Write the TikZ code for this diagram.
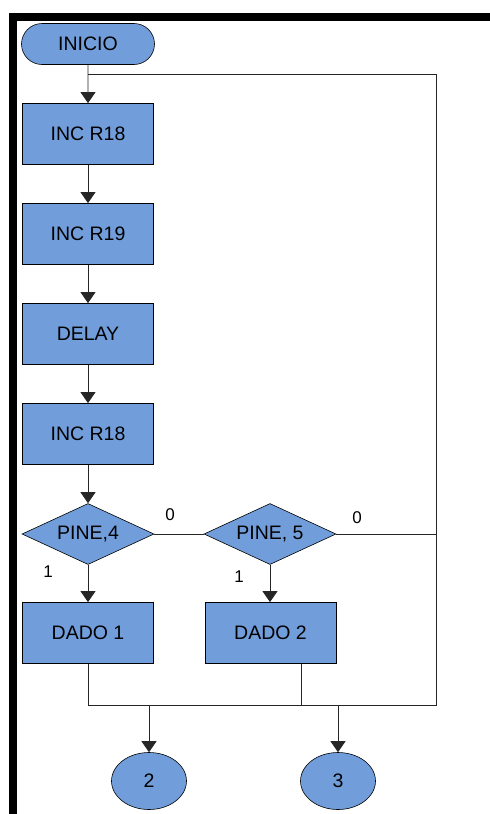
\documentclass[tikz,border=0pt]{standalone}
\usepackage{fontspec}
\setmainfont{Liberation Sans}
\usetikzlibrary{shapes.geometric,shapes.misc,arrows.meta}
\definecolor{boxblue}{RGB}{113,158,219}
\begin{document}
\begin{tikzpicture}[x=1pt,y=-1pt,
  every node/.style={font=\fontsize{19.5}{22}\selectfont},
  proc/.style={draw=black,fill=boxblue,line width=0.8pt,minimum width=131pt,minimum height=61pt,inner sep=0pt},
  decide/.style={diamond,draw=black,fill=boxblue,line width=0.6pt,minimum width=132pt,minimum height=61pt,inner sep=0pt},
  term/.style={rounded rectangle,draw=black,fill=boxblue,line width=0.6pt,minimum width=133pt,minimum height=41pt,inner sep=0pt},
  conn/.style={ellipse,draw=black,fill=boxblue,line width=0.6pt,minimum width=75pt,minimum height=57pt,inner sep=0pt},
  flow/.style={line width=0.8pt,draw=black!85},
  arr/.style={flow,-{Triangle[width=15pt,length=11pt]}},
  bit/.style={font=\fontsize{17}{20}\selectfont}]
\useasboundingbox (0,0) rectangle (490,814);
% frame
\fill (9,13) rectangle (490,21);
\fill (9,13) rectangle (17,814);

% blocks
\node[term] (ini) at (88,44) {INICIO};
\node[proc] (r18a) at (88,134) {INC R18};
\node[proc] (r19) at (88,234) {INC R19};
\node[proc] (dly) at (88,334) {DELAY};
\node[proc] (r18b) at (88,434) {INC R18};
\node[decide] (p4) at (88,534) {};
\node at (p4) {PINE,4};
\node[decide] (p5) at (270,534) {};
\node at (p5) {PINE, 5};
\node[proc] (d1) at (88,633) {DADO 1};
\node[proc] (d2) at (270.5,633) {DADO 2};
\node[conn] (c2) at (149,781) {2};
\node[conn] (c3) at (338,781) {3};

% junctions
\coordinate (loopL) at (88,74);
\coordinate (loopR) at (436,74);
\coordinate (sideR) at (436,534);
\coordinate (botR) at (436,705);
\coordinate (bot1) at (88,705);
\coordinate (bot2) at (301,705);
\coordinate (tap2) at (149,705);
\coordinate (tap3) at (338,705);

% main flow
\draw[arr] (ini) -- (r18a);
\draw[arr] (r18a) -- (r19);
\draw[arr] (r19) -- (dly);
\draw[arr] (dly) -- (r18b);
\draw[arr] (r18b) -- (p4);
\draw[arr] (p4) -- (d1);
\draw[arr] (p5.south) -- (p5.south |- d2.north);
\draw[flow] (p4.east) -- (p5.west);
\draw[flow] (loopL) -- (loopR) -- (sideR) -- (p5.east);
\draw[flow] (sideR) -- (botR) -- (bot1) -- (d1.south);
\draw[flow] (d2.south -| bot2) -- (bot2);
\draw[arr] (tap2) -- (c2);
\draw[arr] (tap3) -- (c3);

% branch labels
\node[bit] at (170,515) {0};
\node[bit] at (357,518) {0};
\node[bit] at (48,572) {1};
\node[bit] at (239,577) {1};
\end{tikzpicture}
\end{document}
